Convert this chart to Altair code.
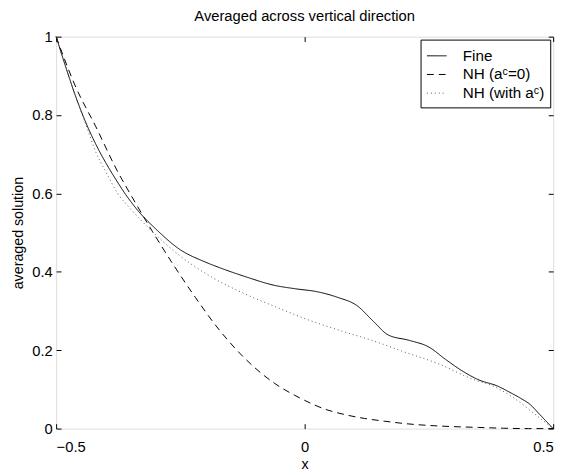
import altair as alt
import pandas as pd

# ---- data ----
series_names = ["Fine", "NH (aᶜ=0)", "NH (with aᶜ)"]

fine_x = [-0.5, -0.48, -0.46, -0.44, -0.42, -0.4, -0.38, -0.36, -0.336, -0.3, -0.251,
          -0.2, -0.172, -0.12, -0.059, -0.02, 0.026, 0.066, 0.105, 0.138, 0.168,
          0.211, 0.25, 0.283, 0.316, 0.349, 0.389, 0.415, 0.435, 0.455, 0.47, 0.485, 0.5]
fine_y = [1.0, 0.92, 0.845, 0.78, 0.725, 0.678, 0.636, 0.597, 0.557, 0.51, 0.457,
          0.425, 0.411, 0.388, 0.365, 0.357, 0.349, 0.335, 0.314, 0.274, 0.239,
          0.225, 0.208, 0.177, 0.148, 0.125, 0.108, 0.091, 0.077, 0.06, 0.04, 0.02, 0.0]

nh0_x = [-0.5, -0.46, -0.42, -0.38, -0.34, -0.3, -0.26, -0.22, -0.18, -0.14,
         -0.1, -0.06, -0.02, 0.0, 0.04, 0.08, 0.12, 0.16, 0.2, 0.25, 0.3, 0.35, 0.4, 0.45, 0.5]
nh0_y = [1.0, 0.87, 0.77, 0.665, 0.575, 0.49, 0.41, 0.335, 0.265, 0.205,
         0.155, 0.115, 0.085, 0.072, 0.05, 0.036, 0.026, 0.019, 0.013, 0.008, 0.005, 0.003, 0.001, 0.0, 0.0]

nhc_x = [-0.5, -0.48, -0.46, -0.44, -0.42, -0.4, -0.376, -0.35, -0.317, -0.251, -0.185, -0.119,
         -0.059, 0.006, 0.072, 0.138, 0.204, 0.27, 0.336, 0.38, 0.415, 0.43, 0.46, 0.48, 0.5]
nhc_y = [1.0, 0.92, 0.845, 0.775, 0.705, 0.655, 0.6, 0.56, 0.516, 0.441, 0.385, 0.343,
         0.311, 0.278, 0.25, 0.224, 0.194, 0.165, 0.127, 0.108, 0.083, 0.07, 0.04, 0.02, 0.0]

x_ticks = [-0.5, 0, 0.5]
y_ticks = [0, 0.2, 0.4, 0.6, 0.8, 1]

rows = []
for name, xs, ys in zip(series_names, [fine_x, nh0_x, nhc_x], [fine_y, nh0_y, nhc_y]):
    for i, (a, b) in enumerate(zip(xs, ys)):
        rows.append({"series": name, "x": a, "y": b, "order": i})
df = pd.DataFrame(rows)

FONT = "Liberation Sans"
xscale = alt.Scale(domain=[-0.5, 0.5], nice=False, zero=False)
yscale = alt.Scale(domain=[0, 1], nice=False, zero=False)

common_axis = dict(offset=-5, tickSize=5, domain=False, grid=False, tickColor="black",
                   labelColor="black", titleColor="black", labelFont=FONT, titleFont=FONT,
                   labelFontSize=15, titleFontSize=14.5, titleFontWeight="normal")

legend = alt.Legend(title=None, orient="none", legendX=371, legendY=3,
                    symbolType="stroke", symbolSize=400, symbolStrokeWidth=1,
                    labelFont=FONT, labelFontSize=15.5, labelColor="black",
                    labelOffset=16, padding=6, rowPadding=0,
                    strokeColor="black", fillColor="white")

lines = alt.Chart(df).mark_line(strokeWidth=1, interpolate="monotone").encode(
    x=alt.X("x:Q", scale=xscale,
            axis=alt.Axis(orient="bottom", values=x_ticks, format="~g", title="x",
                          labelPadding=11, titlePadding=4, **common_axis)),
    y=alt.Y("y:Q", scale=yscale,
            axis=alt.Axis(orient="left", values=y_ticks, format="~g", title="averaged solution",
                          labelPadding=4, titlePadding=6, **common_axis)),
    strokeDash=alt.StrokeDash("series:N",
                              scale=alt.Scale(domain=series_names, range=[[1, 0], [7, 5], [1, 3]]),
                              legend=legend),
    color=alt.Color("series:N",
                    scale=alt.Scale(domain=series_names, range=["black", "black", "#555555"]),
                    legend=legend),
    order="order:Q",
)

frame = alt.Chart(df).mark_line(opacity=0).encode(
    x=alt.X("x:Q", scale=xscale,
            axis=alt.Axis(orient="top", values=x_ticks, labels=False, title=None, **common_axis)),
    y=alt.Y("y:Q", scale=yscale,
            axis=alt.Axis(orient="right", values=y_ticks, labels=False, title=None, **common_axis)),
    detail="series:N",
    order="order:Q",
)

chart = alt.layer(lines, frame).resolve_axis(x="independent", y="independent").properties(
    width=506,
    height=399,
    title=alt.TitleParams("Averaged across vertical direction", font=FONT, fontSize=15,
                          fontWeight="normal", anchor="middle", offset=6, color="black"),
    autosize=alt.AutoSizeParams(type="none"),
    padding={"left": 49, "top": 25, "right": 10, "bottom": 40},
).configure_view(stroke="black", strokeWidth=1).configure(background="white")

chart.save("out.html", embed_options={"renderer": "svg", "actions": False})
